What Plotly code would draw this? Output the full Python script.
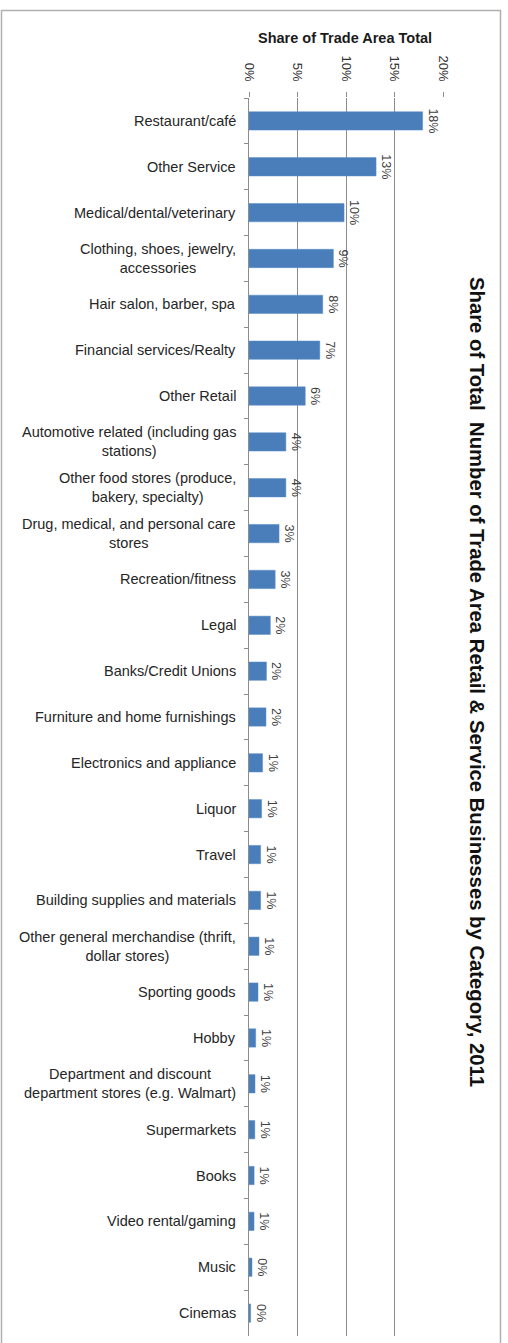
import plotly.graph_objects as go

categories = [
    "Restaurant/café",
    "Other Service",
    "Medical/dental/veterinary",
    "Clothing, shoes, jewelry,<br>accessories",
    "Hair salon, barber, spa",
    "Financial services/Realty",
    "Other Retail",
    "Automotive related (including gas<br>stations)",
    "Other food stores (produce,<br>bakery, specialty)",
    "Drug, medical, and personal care<br>stores",
    "Recreation/fitness",
    "Legal",
    "Banks/Credit Unions",
    "Furniture and home furnishings",
    "Electronics and appliance",
    "Liquor",
    "Travel",
    "Building supplies and materials",
    "Other general merchandise (thrift,<br>dollar stores)",
    "Sporting goods",
    "Hobby",
    "Department and discount<br>department stores (e.g. Walmart)",
    "Supermarkets",
    "Books",
    "Video rental/gaming",
    "Music",
    "Cinemas",
]

share = [
    0.179, 0.131, 0.098, 0.087, 0.076, 0.073, 0.058, 0.038, 0.038, 0.031,
    0.027, 0.022, 0.018, 0.0175, 0.014, 0.013, 0.012, 0.012, 0.0103, 0.0093,
    0.0069, 0.0062, 0.006, 0.0053, 0.0052, 0.0031, 0.0017,
]

tick_vals = [0, 0.05, 0.10, 0.15, 0.20]
tick_text = ["0%", "5%", "10%", "15%", "20%"]

W, H = 508, 1343
PL, PR, PT, PB = 249, 443, 98, 1336  # plot area in pixels
FONT = "Liberation Sans, Arial, sans-serif"


def px_x(p):
    return (p - PL) / (PR - PL)


def px_y(p):
    return (PB - p) / (PB - PT)


fig = go.Figure(
    go.Bar(
        x=share,
        y=categories,
        orientation="h",
        marker=dict(color="#4a7ebb", line=dict(color="#5b8cc6", width=0.5)),
        texttemplate="%{x:.0%}",
        textposition="outside",
        textangle=90,
        constraintext="none",
        cliponaxis=False,
        textfont=dict(family=FONT, size=12.5, color="#404040"),
        hoverinfo="skip",
    )
)

# category labels, centred line by line and right-aligned to the axis
annotations = [
    dict(
        x=0, xref="paper", y=c, yref="y",
        text=c, showarrow=False, xanchor="right", yanchor="middle",
        align="center", xshift=-11,
        font=dict(family=FONT, size=14.5, color="#262626"),
    )
    for c in categories
]

annotations.append(dict(
    x=px_x(345), xref="paper", y=px_y(38), yref="paper",
    text="<b>Share of Trade Area Total</b>", showarrow=False,
    xanchor="center", yanchor="middle",
    font=dict(family=FONT, size=14.5, color="#1a1a1a"),
))

annotations.append(dict(
    x=px_x(477), xref="paper", y=px_y(682), yref="paper",
    text="<b>Share of Total  Number of Trade Area Retail &amp; Service Businesses by Category, 2011</b>",
    showarrow=False, textangle=90, xanchor="center", yanchor="middle",
    font=dict(family=FONT, size=20.3, color="#111111"),
))

fig.update_layout(
    width=W, height=H,
    margin=dict(l=PL, r=W - PR, t=PT, b=H - PB, pad=0),
    paper_bgcolor="white", plot_bgcolor="white",
    showlegend=False,
    bargap=0.6,
    annotations=annotations,
    shapes=[dict(
        type="rect", xref="paper", yref="paper",
        x0=px_x(1.5), x1=px_x(500.5), y0=px_y(1348), y1=px_y(10.5),
        line=dict(color="#b0b0b0", width=1.5), layer="below",
    )],
)

fig.update_xaxes(
    side="top", range=[0, 0.20],
    tickvals=tick_vals, ticktext=tick_text, tickangle=90,
    tickfont=dict(family=FONT, size=13, color="#333333"),
    ticklabelstandoff=6,
    showgrid=True, gridcolor="#8c8c8c", gridwidth=1,
    ticks="outside", ticklen=5, tickcolor="#8c8c8c",
    showline=False, zeroline=False, fixedrange=True,
)

fig.update_yaxes(
    autorange="reversed", showticklabels=False,
    ticks="outside", tickson="boundaries", ticklen=4, tickcolor="#8c8c8c",
    showline=True, linecolor="#8c8c8c", linewidth=1,
    showgrid=False, zeroline=False, fixedrange=True,
)

fig.write_html("out.html")
